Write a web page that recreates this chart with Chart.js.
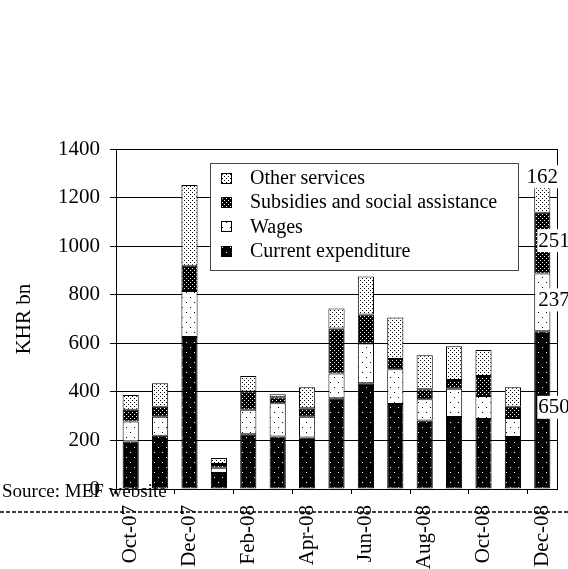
<!DOCTYPE html>
<html>
<head>
<meta charset="utf-8">
<script src="https://cdn.jsdelivr.net/npm/chart.js@4.4.0/dist/chart.umd.min.js"></script>
<style>
  html, body { margin:0; padding:0; background:#fff; }
  #wrap { width:568px; height:569px; }
</style>
</head>
<body>
<div id="wrap"><canvas id="chart" width="568" height="569"></canvas></div>
<script>
// monthly current spending, KHR bn
const months = ["Oct-07","Nov-07","Dec-07","Jan-08","Feb-08","Mar-08","Apr-08","May-08",
                "Jun-08","Jul-08","Aug-08","Sep-08","Oct-08","Nov-08","Dec-08"];
const currentExp    = [196, 219, 626, 66, 225, 216, 212, 374, 435, 350, 282, 296, 288, 214, 650];
const wages         = [ 82,  79, 189, 21, 101, 137,  86, 102, 164, 143,  88, 117,  95,  78, 237];
const subsidies     = [ 48,  41, 104, 16,  75,  25,  35, 185, 120,  42,  41,  36,  82,  47, 251];
const otherServices = [ 61,  96, 333, 25,  64,  12,  86,  82, 156, 171, 140, 139, 107,  80, 162];
const yTicks = [0, 200, 400, 600, 800, 1000, 1200, 1400];

const FONT = "'Liberation Serif', 'Times New Roman', serif";
const canvas = document.getElementById("chart");
const ctx0 = canvas.getContext("2d");

// small dotted tiles used as bar fills
function dotPattern(bg, fg, w, h, dots){
  const c = document.createElement("canvas");
  c.width = w; c.height = h;
  const g = c.getContext("2d");
  g.fillStyle = bg; g.fillRect(0, 0, w, h);
  g.fillStyle = fg;
  dots.forEach(([x, y]) => g.fillRect(x, y, 1, 1));
  return ctx0.createPattern(c, "repeat");
}
const pCurrent = dotPattern("#000", "#fff", 8, 10, [[2,2],[6,7]]);
const pWages   = dotPattern("#fff", "#000", 8, 10, [[2,2],[6,7]]);
const pSubs    = dotPattern("#000", "#fff", 4, 4, [[0,0],[2,2]]);
const pOther   = dotPattern("#fff", "#000", 4, 4, [[0,0],[2,2]]);

const series = [
  { label:"Current expenditure", data:currentExp, fill:pCurrent },
  { label:"Wages", data:wages, fill:pWages },
  { label:"Subsidies and social assistance", data:subsidies, fill:pSubs },
  { label:"Other services", data:otherServices, fill:pOther }
];

// legend box inside the plot, top item first
const boxLegend = {
  id:"boxLegend",
  afterDatasetsDraw(chart){
    const c = chart.ctx;
    c.save();
    c.fillStyle = "#fff";
    c.fillRect(210, 163, 308, 107);
    c.strokeStyle = "#444"; c.lineWidth = 1;
    c.strokeRect(210.5, 163.5, 308, 107);
    c.font = "20px " + FONT;
    c.textBaseline = "middle";
    c.textAlign = "left";
    series.slice().reverse().forEach((s, i) => {
      const cy = 178 + i * 24.2;
      c.fillStyle = s.fill;
      c.fillRect(221, Math.round(cy - 5), 11, 11);
      c.strokeStyle = "#000";
      c.strokeRect(221.5, Math.round(cy - 5) + 0.5, 10, 10);
      c.fillStyle = "#000";
      c.fillText(s.label, 250, cy + 1);
    });
    c.restore();
  }
};

// right frame, value labels on the last bar, source note and dashed rule
const extras = {
  id:"extras",
  afterDraw(chart){
    const c = chart.ctx;
    const a = chart.chartArea;
    c.save();
    c.strokeStyle = "#000"; c.lineWidth = 1;
    c.beginPath();
    c.moveTo(Math.round(a.right) + 0.5, a.top);
    c.lineTo(Math.round(a.right) + 0.5, a.bottom);
    c.stroke();

    const idx = months.length - 1;
    c.font = "21px " + FONT;
    c.textBaseline = "middle";
    c.textAlign = "left";
    chart.data.datasets.forEach((ds, di) => {
      const el = chart.getDatasetMeta(di).data[idx];
      const txt = String(ds.data[idx]);
      const w = c.measureText(txt).width;
      let x, y;
      if (di === chart.data.datasets.length - 1) { x = el.x - w / 2; y = el.y + 3; }
      else { x = el.x - 4; y = (el.y + el.base) / 2 - 3; }
      c.fillStyle = "#fff";
      c.fillRect(x - 1, y - 11, w + 2, 23);
      c.fillStyle = "#000";
      c.fillText(txt, x, y + 1);
    });

    c.font = "19px " + FONT;
    c.textBaseline = "alphabetic";
    c.fillText("Source: MEF website", 2, 497);

    c.setLineDash([4, 2]);
    c.lineWidth = 1.5;
    c.beginPath();
    c.moveTo(0, 512); c.lineTo(568, 512);
    c.stroke();
    c.restore();
  }
};

new Chart(canvas, {
  type:"bar",
  data:{
    labels: months,
    datasets: series.map(s => ({
      label: s.label,
      data: s.data,
      backgroundColor: s.fill,
      borderColor: "#000",
      borderWidth: 1,
      borderSkipped: false,
      barPercentage: 0.55,
      categoryPercentage: 1
    }))
  },
  options:{
    responsive:false,
    animation:false,
    devicePixelRatio:1,
    layout:{ padding:{ top:149, right:11, left:0, bottom:0 } },
    plugins:{ legend:{ display:false }, tooltip:{ enabled:false } },
    scales:{
      x:{
        stacked:true,
        afterFit(s){ s.height = 80; s.paddingLeft = 0; s.paddingRight = 0; },
        grid:{ drawOnChartArea:false, drawTicks:true, tickLength:5,
               tickColor:(ctx) => ctx.index % 2 === 0 ? "#000" : "rgba(0,0,0,0)" },
        border:{ display:true, color:"#000", width:1 },
        ticks:{
          autoSkip:false, maxRotation:90, minRotation:90, padding:11,
          color:"#000", font:{ family:FONT, size:21 },
          callback:(v, i) => i % 2 === 0 ? months[i] : ""
        }
      },
      y:{
        stacked:true,
        min:0, max:1400,
        afterFit(s){ s.width = 116; },
        afterBuildTicks(s){ s.ticks = yTicks.map(v => ({ value:v })); },
        grid:{ color:"#000", lineWidth:1, drawTicks:true, tickLength:6, tickColor:"#000" },
        border:{ display:true, color:"#000", width:1 },
        ticks:{ padding:10, color:"#000", font:{ family:FONT, size:21 },
                callback:(v) => String(v) },
        title:{ display:true, text:"KHR bn", color:"#000",
                font:{ family:FONT, size:21 }, padding:{ top:12, bottom:0 } }
      }
    }
  },
  plugins:[boxLegend, extras]
});
</script>
</body>
</html>
